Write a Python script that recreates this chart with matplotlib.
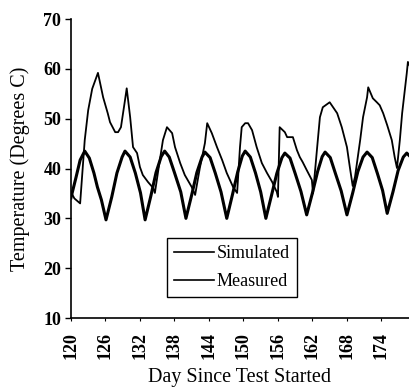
import numpy as np
import matplotlib
matplotlib.use('Agg')
from matplotlib import pyplot as plt

# regular daily cycle (thick line)
sim_day = [120.0, 120.9, 121.6, 122.4, 123.2, 124.0, 124.6, 125.3, 126.1,
           127.1, 128.0, 128.9, 129.4, 130.3, 131.2, 132.1, 132.9,
           133.9, 134.8, 135.7, 136.3, 137.1, 138.0, 139.1, 140.0,
           141.0, 141.9, 142.8, 143.3, 144.2, 145.1, 146.1, 147.1,
           148.1, 149.0, 149.8, 150.3, 151.2, 152.1, 153.0, 153.9,
           154.9, 155.8, 156.7, 157.2, 158.1, 159.0, 160.0, 161.0,
           162.0, 162.9, 163.7, 164.2, 165.1, 166.0, 167.0, 168.0,
           169.0, 169.9, 170.8, 171.5, 172.4, 173.3, 174.2, 175.0,
           176.0, 176.9, 177.8, 178.4, 179.0]
sim_temp = [34.1, 38.3, 41.7, 43.5, 42.1, 39.1, 36.3, 33.7, 29.7,
            34.3, 39.1, 42.3, 43.5, 42.3, 39.1, 35.1, 29.7,
            34.5, 39.2, 42.4, 43.5, 42.3, 39.2, 35.3, 30.0,
            34.7, 39.2, 42.3, 43.3, 42.2, 39.1, 35.3, 30.0,
            34.8, 39.3, 42.5, 43.5, 42.3, 39.1, 35.3, 30.0,
            34.7, 39.0, 42.2, 43.1, 42.1, 39.0, 35.4, 30.7,
            35.1, 39.4, 42.4, 43.3, 42.2, 39.0, 35.5, 30.7,
            35.1, 39.4, 42.3, 43.3, 42.2, 39.0, 35.6, 31.0,
            35.3, 39.6, 42.3, 43.1, 42.4]

# irregular upper curve (thin line)
meas_day = [120.0, 120.6, 121.6, 122.4, 123.0, 123.7, 124.7, 125.6, 126.4,
            126.8, 127.7, 128.2, 128.7, 129.4, 129.7, 130.3, 130.8, 131.5,
            132.0, 132.5, 133.4, 134.3, 134.6, 135.3, 136.0, 136.7, 137.6,
            138.1, 139.0, 139.8, 141.0, 141.6, 142.4, 143.3, 143.7, 144.5,
            145.4, 146.3, 147.1, 148.2, 148.9, 149.4, 149.7, 150.3, 150.8,
            151.5, 152.3, 153.2, 154.1, 155.0, 155.8, 156.0, 156.3, 157.2,
            157.6, 158.6, 159.3, 159.8, 160.3, 161.0, 161.9, 162.1, 162.8,
            163.3, 163.8, 165.0, 166.3, 167.1, 168.0, 168.5, 169.0, 169.4,
            170.3, 170.8, 171.5, 171.7, 172.5, 173.2, 173.7, 174.3, 175.0,
            175.8, 176.3, 176.7, 177.2, 177.6, 178.4, 178.6, 179.0]
meas_temp = [35.3, 34.0, 33.0, 45.7, 51.7, 56.0, 59.2, 54.3, 51.1,
             49.3, 47.3, 47.3, 48.3, 53.7, 56.1, 50.3, 44.3, 43.1,
             40.3, 38.7, 37.3, 36.1, 35.1, 40.5, 45.7, 48.3, 47.1,
             44.3, 41.1, 38.7, 36.3, 34.7, 40.0, 45.1, 49.1, 47.1,
             44.3, 41.7, 39.1, 36.3, 35.1, 44.3, 48.3, 49.1, 49.1,
             47.7, 44.3, 41.1, 39.1, 37.3, 35.3, 34.3, 48.3, 47.3,
             46.3, 46.3, 43.7, 42.3, 41.3, 39.7, 37.7, 35.0, 44.0,
             50.3, 52.3, 53.3, 51.1, 48.3, 44.3, 40.3, 36.5, 38.3,
             45.7, 50.3, 54.3, 56.3, 54.1, 53.3, 52.7, 51.1, 48.7,
             45.7, 42.3, 40.1, 45.7, 51.1, 59.1, 61.4, 60.4]

xticks = [120, 126, 132, 138, 144, 150, 156, 162, 168, 174]
yticks = [10, 20, 30, 40, 50, 60, 70]

plt.rcParams['font.family'] = 'Liberation Serif'

fig = plt.figure(figsize=(4.10, 3.89), dpi=100)
ax = fig.add_axes([0.173, 0.1825, 0.8415, 0.7685])

ax.plot(sim_day, sim_temp, color='black', lw=2.2, label='Simulated')
ax.plot(meas_day, meas_temp, color='black', lw=1.3, label='Measured')

ax.set_xlim(120, 180)
ax.set_ylim(10, 70)
ax.set_xticks(xticks)
ax.set_yticks(yticks)
ax.set_xticklabels([str(t) for t in xticks], rotation=90, fontsize=13, fontweight='bold')
ax.set_yticklabels([str(t) for t in yticks], fontsize=13, fontweight='bold')
ax.tick_params(axis='y', length=4, width=1, direction='out', pad=3)
ax.tick_params(axis='x', length=2, width=0.8, direction='out', pad=8)
ax.spines['top'].set_visible(False)
ax.spines['right'].set_visible(False)
for s in ['left', 'bottom']:
    ax.spines[s].set_linewidth(1.2)

ax.set_xlabel('Day Since Test Started', fontsize=14.5)
ax.set_ylabel('Temperature (Degrees C)', fontsize=14.5)
ax.xaxis.set_label_coords(0.49, -0.168)
ax.yaxis.set_label_coords(-0.12, 0.5)

leg = ax.legend(loc='lower left', bbox_to_anchor=(0.278, 0.07), borderaxespad=0,
                fancybox=False, edgecolor='black', framealpha=1,
                handlelength=2.2, handletextpad=0.15, labelspacing=0.6,
                borderpad=0.4,
                prop={'family': 'Liberation Serif', 'size': 13})
leg.get_frame().set_linewidth(1.0)
for h in leg.get_lines():
    h.set_linewidth(1.2)

fig.savefig('out.png', dpi=100)
